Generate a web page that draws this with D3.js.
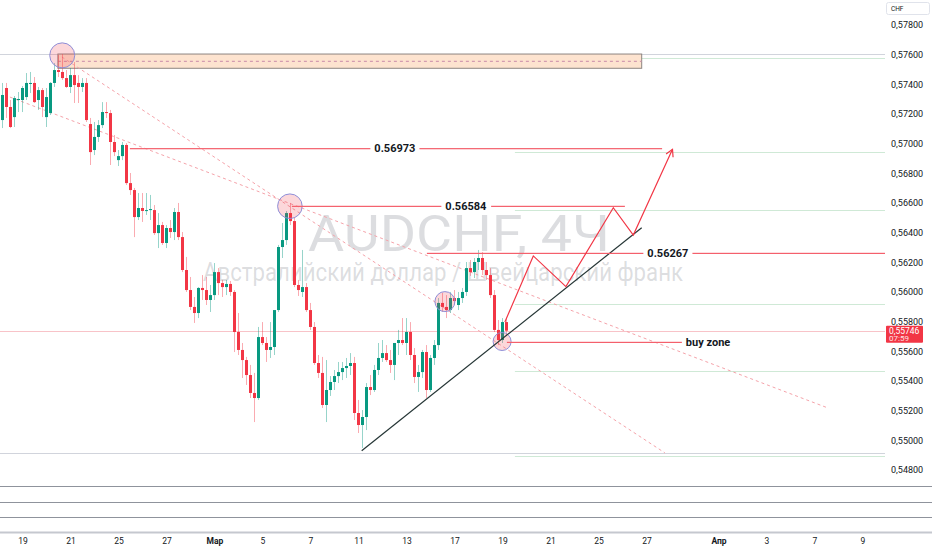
<!DOCTYPE html>
<html>
<head>
<meta charset="utf-8">
<script src="https://cdn.jsdelivr.net/npm/d3@7"></script>
<style>
  html, body { margin: 0; padding: 0; background: #ffffff; }
  svg { display: block; font-family: Roboto, "Liberation Sans", Arial, sans-serif; }
</style>
</head>
<body>
<svg id="chart" width="932" height="550"></svg>
<script>
// AUDCHF 4H candles, one entry per bar (bar 0 = Feb 18, 00:00)
const candleOpen = [
  0.57166,0.57382,0.57254,0.57186,0.57301,0.57301,0.57321,0.57409,0.57416,0.57301,
  0.57368,0.57186,0.57213,0.57416,0.57503,0.57490,0.57449,0.57389,0.57469,0.57416,
  0.57389,0.57416,0.57139,0.56964,0.57052,0.57132,0.57220,0.57213,0.57018,0.56896,
  0.56923,0.56998,0.56741,0.56694,0.56512,0.56573,0.56553,0.56559,0.56559,0.56404,
  0.56458,0.56337,0.56438,0.56411,0.56546,0.56377,0.56155,0.56020,0.55906,0.55865,
  0.56034,0.56020,0.55953,0.55986,0.56141,0.56067,0.56040,0.56061,0.56007,0.55737,
  0.55616,0.55548,0.55447,0.55326,0.55292,0.55703,0.55663,0.55616,0.55636,0.55885,
  0.56310,0.56357,0.56539,0.56485,0.56054,0.56007,0.56040,0.55885,0.55771,0.55528,
  0.55461,0.55245,0.55346,0.55400,0.55440,0.55467,0.55494,0.55508,0.55528,0.55191,
  0.55110,0.55164,0.55366,0.55346,0.55481,0.55562,0.55595,0.55548,0.55515,0.55663,
  0.55683,0.55663,0.55737,0.55582,0.55434,0.55467,0.55602,0.55346,0.55562,0.55649,
  0.55933,0.55906,0.55885,0.55966,0.55919,0.55966,0.56007,0.56168,0.56141,0.56209,
  0.56236,0.56155,0.56121,0.55986,0.55751,0.55683,0.55804
];
const candleHigh = [
  0.57416,0.57416,0.57301,0.57328,0.57355,0.57395,0.57483,0.57490,0.57456,0.57389,
  0.57382,0.57382,0.57422,0.57550,0.57604,0.57611,0.57503,0.57517,0.57557,0.57469,
  0.57449,0.57449,0.57180,0.57153,0.57166,0.57287,0.57287,0.57234,0.57065,0.56964,
  0.57018,0.57011,0.56809,0.56708,0.56674,0.56674,0.56674,0.56661,0.56593,0.56539,
  0.56479,0.56458,0.56492,0.56573,0.56607,0.56411,0.56243,0.56108,0.55973,0.56040,
  0.56121,0.56108,0.56054,0.56202,0.56168,0.56088,0.56088,0.56081,0.56020,0.55865,
  0.55663,0.55569,0.55515,0.55461,0.55771,0.55804,0.55703,0.55804,0.55804,0.56324,
  0.56472,0.56553,0.56607,0.56512,0.56088,0.56290,0.56067,0.55933,0.55804,0.55582,
  0.55569,0.55548,0.55440,0.55481,0.55535,0.55535,0.55562,0.55595,0.55569,0.55279,
  0.55211,0.55393,0.55447,0.55515,0.55663,0.55683,0.55649,0.55616,0.55663,0.55751,
  0.55831,0.55831,0.55804,0.55629,0.55515,0.55616,0.55649,0.55582,0.55683,0.55966,
  0.56000,0.55986,0.56007,0.56020,0.56007,0.56034,0.56209,0.56222,0.56236,0.56290,
  0.56276,0.56209,0.56168,0.56020,0.55818,0.55831,0.55831
];
const candleLow = [
  0.57112,0.57180,0.57112,0.57119,0.57220,0.57220,0.57301,0.57348,0.57281,0.57234,
  0.57186,0.57119,0.57200,0.57389,0.57456,0.57436,0.57382,0.57348,0.57281,0.57281,
  0.57355,0.57153,0.56863,0.56930,0.57018,0.57112,0.57180,0.56863,0.56923,0.56856,
  0.56896,0.56728,0.56661,0.56377,0.56492,0.56479,0.56526,0.56492,0.56391,0.56303,
  0.56324,0.56303,0.56371,0.56357,0.56357,0.56141,0.56007,0.55885,0.55798,0.55831,
  0.55953,0.55919,0.55872,0.55953,0.55986,0.55973,0.55986,0.55980,0.55602,0.55582,
  0.55427,0.55380,0.55292,0.55130,0.55279,0.55649,0.55535,0.55562,0.55582,0.55872,
  0.56236,0.56324,0.56458,0.56040,0.55980,0.55973,0.55872,0.55751,0.55515,0.55427,
  0.55225,0.55130,0.55306,0.55346,0.55393,0.55413,0.55427,0.55447,0.55144,0.55056,
  0.54955,0.55076,0.55312,0.55333,0.55447,0.55535,0.55535,0.55461,0.55413,0.55582,
  0.55649,0.55582,0.55548,0.55393,0.55333,0.55427,0.55292,0.55333,0.55515,0.55616,
  0.55872,0.55831,0.55865,0.55919,0.55885,0.55933,0.55980,0.56115,0.56101,0.56155,
  0.56121,0.56088,0.55966,0.55737,0.55649,0.55663,0.55710
];
const candleClose = [
  0.57335,0.57254,0.57119,0.57314,0.57308,0.57382,0.57416,0.57416,0.57287,0.57368,
  0.57254,0.57321,0.57416,0.57503,0.57490,0.57449,0.57389,0.57469,0.57402,0.57389,
  0.57416,0.57166,0.56950,0.57052,0.57132,0.57220,0.57213,0.57018,0.56950,0.56923,
  0.56998,0.56741,0.56694,0.56512,0.56573,0.56553,0.56559,0.56566,0.56404,0.56458,
  0.56337,0.56438,0.56411,0.56546,0.56377,0.56155,0.56020,0.55906,0.55865,0.56034,
  0.56020,0.55953,0.55986,0.56141,0.56067,0.56040,0.56061,0.56007,0.55737,0.55616,
  0.55548,0.55447,0.55326,0.55292,0.55703,0.55663,0.55616,0.55636,0.55885,0.56310,
  0.56357,0.56539,0.56485,0.56054,0.56020,0.56040,0.55885,0.55771,0.55528,0.55461,
  0.55245,0.55346,0.55400,0.55440,0.55467,0.55494,0.55508,0.55528,0.55191,0.55110,
  0.55164,0.55366,0.55346,0.55481,0.55562,0.55595,0.55548,0.55515,0.55663,0.55683,
  0.55663,0.55737,0.55582,0.55434,0.55467,0.55602,0.55346,0.55562,0.55649,0.55933,
  0.55906,0.55885,0.55966,0.55946,0.55966,0.56007,0.56168,0.56141,0.56209,0.56236,
  0.56155,0.56121,0.55986,0.55751,0.55683,0.55804,0.55746
];

// Price axis and time axis ticks
const priceTicks = [0.578,0.576,0.574,0.572,0.570,0.568,0.566,0.564,0.562,0.560,0.558,0.556,0.554,0.552,0.550,0.548];
const timeTickBar   = [5,17,29,41,53,65,77,89,101,113,125,137,149,161,179,191,203,215];
const timeTickLabel = ["19","21","25","27","Мар","5","7","11","13","17","19","21","25","27","Апр","3","7","9"];
const timeTickBold  = ["Мар","Апр"];

// Drawings, anchored by [bar, price]
const resistanceBox = { from: 13.85, to: 159.8, top: 0.57611, bottom: 0.57515, mid: 0.57562 };
const rangeLines    = [0.57611, 0.54922];
const projectionLevels = [0.57582, 0.56953, 0.56560, 0.55926, 0.55477, 0.54902];
const levelPrices = [0.56973, 0.56584, 0.56267, 0.55667];
const levelFrom   = [31.85, 72.35, 106.1, 126.1];
const levelTo     = [164.9, 155.6, 225, 170.1];
const levelText   = ["0.56973", "0.56584", "0.56267", "buy zone"];
const levelTextAt = [98.1, 115.85, 166.35, 176.4];
const dashedLines = [
  [[14.85, 0.57591], [165.6, 0.54922]],
  [[1.85, 0.57321], [206.35, 0.55225]]
];
const trendLine = [[89.8, 0.54937], [159.8, 0.56440]];
const pathBars   = [125.6, 132.7, 140.85, 152.7, 157.7, 167.5];
const pathPrices = [0.55805, 0.56250, 0.56043, 0.56575, 0.56391, 0.56969];
const markerBars   = [14.93, 71.85, 110.6, 124.9];
const markerPrices = [0.57602, 0.56585, 0.55942, 0.55673];
const markerRadius = [12.5, 12.3, 10, 9];
const lastPrice = 0.55746;
const barCountdown = "07:59";

const W = 932, H = 550, plotRight = 885, plotBottom = 478;
const svg = d3.select("#chart");
const x = d3.scaleLinear().domain([0, 220]).range([2.5, 882.5]);
const y = d3.scaleLinear().domain([0.548, 0.578]).range([471, 26]);
const commaFmt = d3.formatLocale({ decimal: ",", thousands: " ", grouping: [3], currency: ["", ""] }).format(".5f");
const crisp = v => Math.round(v) + 0.5;

svg.append("rect").attr("width", W).attr("height", H).attr("fill", "#ffffff");
svg.append("defs").append("clipPath").attr("id", "plot")
  .append("rect").attr("x", 0).attr("y", 0).attr("width", plotRight).attr("height", plotBottom);

// Symbol watermark
const wm = svg.append("g").attr("class", "watermark").attr("fill", "rgba(120,123,134,0.26)").attr("text-anchor", "middle");
wm.append("text").attr("x", 459).attr("y", 251).attr("font-size", 50)
  .attr("textLength", 302).attr("lengthAdjust", "spacingAndGlyphs").text("AUDCHF, 4Ч");
wm.append("text").attr("x", 443).attr("y", 281).attr("font-size", 26)
  .attr("textLength", 480).attr("lengthAdjust", "spacingAndGlyphs").text("Австралийский доллар / Швейцарский франк");

const plot = svg.append("g").attr("class", "plot").attr("clip-path", "url(#plot)");

// Horizontal reference lines
plot.selectAll("line.range").data(rangeLines).join("line").attr("class", "range")
  .attr("x1", 0).attr("x2", plotRight)
  .attr("y1", d => crisp(y(d))).attr("y2", d => crisp(y(d)))
  .attr("stroke", "#d1d4dc").attr("stroke-width", 1);
plot.selectAll("line.proj").data(projectionLevels).join("line").attr("class", "proj")
  .attr("x1", x(128.1)).attr("x2", plotRight)
  .attr("y1", d => crisp(y(d))).attr("y2", d => crisp(y(d)))
  .attr("stroke", "#cfe9d6").attr("stroke-width", 1.2);
plot.append("line").attr("class", "last-price")
  .attr("x1", 0).attr("x2", plotRight)
  .attr("y1", crisp(y(lastPrice))).attr("y2", crisp(y(lastPrice)))
  .attr("stroke", "#f8c3c8").attr("stroke-width", 1);

// Resistance box
plot.append("rect").attr("class", "zone")
  .attr("x", x(resistanceBox.from)).attr("y", y(resistanceBox.top))
  .attr("width", x(resistanceBox.to) - x(resistanceBox.from))
  .attr("height", y(resistanceBox.bottom) - y(resistanceBox.top))
  .attr("fill", "#fde3cf").attr("stroke", "#8d8580").attr("stroke-width", 1);
plot.append("line").attr("class", "zone-mid")
  .attr("x1", x(resistanceBox.from)).attr("x2", x(resistanceBox.to))
  .attr("y1", y(resistanceBox.mid)).attr("y2", y(resistanceBox.mid))
  .attr("stroke", "#c98aa8").attr("stroke-dasharray", "3,3").attr("stroke-width", 1);

// Dashed channel lines
plot.selectAll("line.channel").data(dashedLines).join("line").attr("class", "channel")
  .attr("x1", d => x(d[0][0])).attr("y1", d => y(d[0][1]))
  .attr("x2", d => x(d[1][0])).attr("y2", d => y(d[1][1]))
  .attr("stroke", "#f5a3aa").attr("stroke-dasharray", "3,3").attr("stroke-width", 1);

// Candles
const bars = d3.range(candleOpen.length).map(i => ({
  i, o: candleOpen[i], h: candleHigh[i], l: candleLow[i], c: candleClose[i]
}));
const up = "#089981", down = "#f23645";
plot.selectAll("line.wick").data(bars).join("line").attr("class", "wick")
  .attr("x1", d => x(d.i)).attr("x2", d => x(d.i))
  .attr("y1", d => y(d.h)).attr("y2", d => y(d.l))
  .attr("stroke", d => d.c >= d.o ? "rgba(8,153,129,0.42)" : "rgba(242,54,69,0.42)")
  .attr("stroke-width", 1);
plot.selectAll("rect.body").data(bars).join("rect").attr("class", "body")
  .attr("x", d => x(d.i) - 1.5).attr("width", 3)
  .attr("y", d => y(Math.max(d.o, d.c)))
  .attr("height", d => Math.max(1, Math.abs(y(d.o) - y(d.c))))
  .attr("fill", d => d.c >= d.o ? up : down);

// Marked swing points
plot.selectAll("circle.marker").data(markerBars).join("circle").attr("class", "marker")
  .attr("cx", d => x(d)).attr("cy", (d, k) => y(markerPrices[k])).attr("r", (d, k) => markerRadius[k])
  .attr("fill", "rgba(242,54,69,0.2)").attr("stroke", "#8e8ed8").attr("stroke-width", 1);

// Ascending trend line
plot.append("line").attr("class", "trend")
  .attr("x1", x(trendLine[0][0])).attr("y1", y(trendLine[0][1]))
  .attr("x2", x(trendLine[1][0])).attr("y2", y(trendLine[1][1]))
  .attr("stroke", "#253535").attr("stroke-width", 1.2);

// Labelled levels: thin filled strips so the colour stays a clean red
levelPrices.forEach((p, k) => {
  const yy = y(p);
  const x1 = x(levelFrom[k]), x2 = Math.min(plotRight, x(levelTo[k]));
  plot.append("rect").attr("class", "level")
    .attr("x", x1).attr("width", x2 - x1).attr("y", yy - 0.6).attr("height", 1.2)
    .attr("fill", "#f4606c");
  const g = plot.append("g").attr("class", "level-label");
  const t = g.append("text").attr("x", x(levelTextAt[k])).attr("y", yy)
    .attr("text-anchor", "middle").attr("dominant-baseline", "central")
    .attr("font-size", 11).attr("font-weight", 700).attr("fill", "#131722").text(levelText[k]);
  const bb = t.node().getBBox();
  g.insert("rect", "text").attr("x", bb.x - 4).attr("y", yy - 3).attr("width", bb.width + 8)
    .attr("height", 6).attr("fill", "#ffffff");
});

// Projected path with arrow
const pathPts = pathBars.map((b, k) => [x(b), y(pathPrices[k])]);
plot.append("path").attr("class", "projection").attr("d", d3.line()(pathPts))
  .attr("fill", "none").attr("stroke", "#f23645").attr("stroke-width", 1.2).attr("stroke-linejoin", "miter");
{
  const [x1, y1] = pathPts[pathPts.length - 2], [x2, y2] = pathPts[pathPts.length - 1];
  const a = Math.atan2(y2 - y1, x2 - x1), len = 8, spread = 0.5;
  const head = [[x2 - len * Math.cos(a - spread), y2 - len * Math.sin(a - spread)], [x2, y2],
                [x2 - len * Math.cos(a + spread), y2 - len * Math.sin(a + spread)]];
  plot.append("path").attr("class", "arrow-head").attr("d", d3.line()(head)).attr("fill", "none")
    .attr("stroke", "#f23645").attr("stroke-width", 1.2);
}

// Right price scale
const yAxis = d3.axisRight(y).tickValues(priceTicks).tickSize(0).tickPadding(0).tickFormat(commaFmt);
const ya = svg.append("g").attr("class", "price-axis").attr("transform", "translate(891,0)").call(yAxis);
ya.select(".domain").remove();
ya.selectAll("text").attr("font-size", 9).attr("fill", "#131722")
  .attr("font-family", "Roboto, 'Liberation Sans', Arial, sans-serif").attr("dy", "0.32em")
  .attr("transform", "translate(0,-1)");

// Currency badge
svg.append("rect").attr("x", 886.5).attr("y", 2.5).attr("width", 43).attr("height", 12).attr("rx", 2)
  .attr("fill", "#ffffff").attr("stroke", "#e0e3eb");
svg.append("text").attr("x", 891).attr("y", 11).attr("font-size", 6.5).attr("fill", "#131722").text("CHF");

// Last price badge
const ly = y(lastPrice);
svg.append("rect").attr("x", 886).attr("y", ly - 5).attr("width", 37).attr("height", 17).attr("rx", 1)
  .attr("fill", "#f23645");
svg.append("text").attr("x", 889).attr("y", ly + 3).attr("font-size", 8.5).attr("fill", "#ffffff")
  .text(commaFmt(lastPrice));
svg.append("text").attr("x", 889).attr("y", ly + 10.5).attr("font-size", 8).attr("fill", "#ffe2e4")
  .text(barCountdown);

// Empty lower panes
const paneLines = [486.5, 502.5, 517.5];
svg.selectAll("line.pane").data(paneLines).join("line").attr("class", "pane")
  .attr("x1", 0).attr("x2", W).attr("y1", d => d).attr("y2", d => d)
  .attr("stroke", "#8f939c").attr("stroke-width", 1);
svg.append("line").attr("x1", 0).attr("x2", W).attr("y1", 532.5).attr("y2", 532.5)
  .attr("stroke", "#c5c8cf").attr("stroke-width", 2);

// Time scale
const xAxis = d3.axisBottom(x).tickValues(timeTickBar).tickSize(0).tickPadding(0)
  .tickFormat((d, k) => timeTickLabel[k]);
const xa = svg.append("g").attr("class", "time-axis").attr("transform", "translate(0,541)").call(xAxis);
xa.select(".domain").remove();
xa.selectAll("text").attr("font-size", 8.5).attr("fill", "#131722").attr("dy", "0.32em")
  .attr("font-family", "Roboto, 'Liberation Sans', Arial, sans-serif")
  .attr("font-weight", (d, k) => timeTickBold.includes(timeTickLabel[k]) ? 700 : 400);
</script>
</body>
</html>
